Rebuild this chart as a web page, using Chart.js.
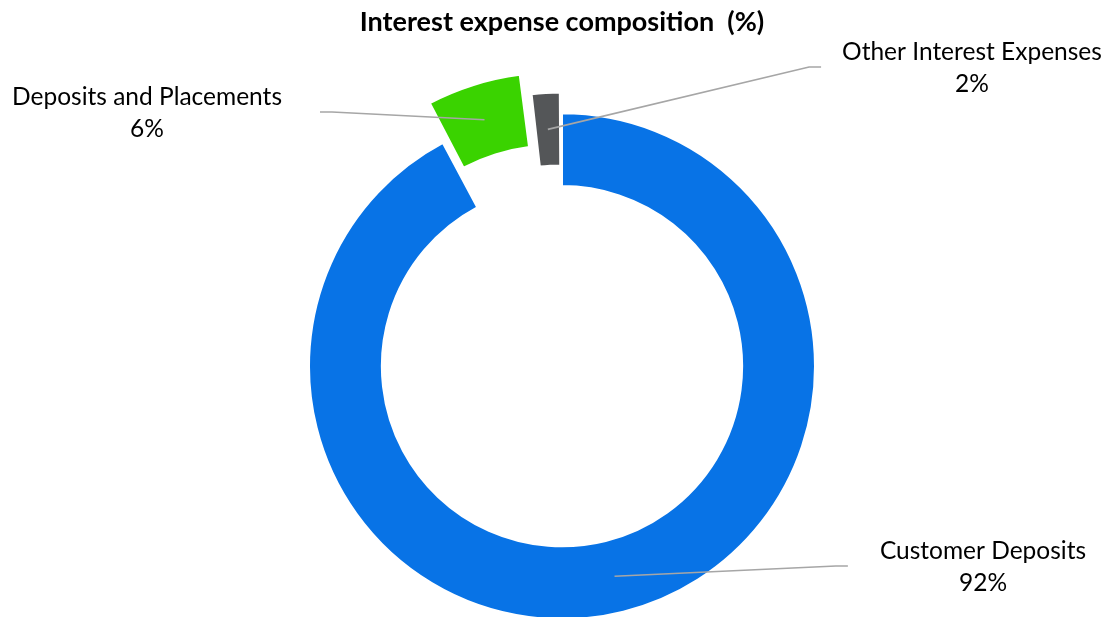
<!DOCTYPE html>
<html>
<head>
<meta charset="utf-8">
<script src="https://cdn.jsdelivr.net/npm/chart.js@4.4.1/dist/chart.umd.min.js"></script>
<style>
  html, body { margin: 0; padding: 0; background: #fff; }
  #wrap { width: 1109px; height: 617px; }
</style>
</head>
<body>
<div id="wrap"><canvas id="myChart"></canvas></div>
<script>
var categories = ['Customer Deposits', 'Deposits and Placements', 'Other Interest Expenses'];
var shares = [92.2, 5.9, 1.9];
var sliceColors = ['#0873e6', '#3ad300', '#545658'];
var sliceOffsets = [0, 102, 44];

// label block centre and how far the leader line stops short of the text
var labelPos = [
    { x: 983, y: 567, side: 'left', gap: 32 },
    { x: 147, y: 113, side: 'right', gap: 38 },
    { x: 972, y: 68, side: 'left', gap: 21 }
];

var labelFont = '24.5px Lato';

var leaderLabels = {
    id: 'leaderLabels',
    afterDatasetsDraw: function(chart) {
        var ctx = chart.ctx;
        var meta = chart.getDatasetMeta(0);
        ctx.save();
        ctx.font = labelFont;
        meta.data.forEach(function(arc, i) {
            var p = arc.getProps(['x', 'y', 'startAngle', 'endAngle', 'innerRadius', 'outerRadius'], true);
            var mid = (p.startAngle + p.endAngle) / 2;
            var circ = p.endAngle - p.startAngle;
            // same shift the arc gets when it is drawn exploded
            var off = (arc.options.offset || 0) / 4 * (2 - Math.sin(Math.min(Math.PI, circ)));
            var r = (p.innerRadius + p.outerRadius) / 2 + off;
            var sx = p.x + Math.cos(mid) * r;
            var sy = p.y + Math.sin(mid) * r;

            var lp = labelPos[i];
            var lines = [categories[i], Math.round(shares[i]) + '%'];
            var w = Math.max(ctx.measureText(lines[0]).width, ctx.measureText(lines[1]).width);
            var ex = lp.side === 'left' ? lp.x - w / 2 - lp.gap : lp.x + w / 2 + lp.gap;
            var kx = lp.side === 'left' ? ex - 12 : ex + 12;
            var ey = lp.y - 1;

            ctx.strokeStyle = '#a6a6a6';
            ctx.lineWidth = 1.6;
            ctx.beginPath();
            ctx.moveTo(sx, sy);
            ctx.lineTo(kx, ey);
            ctx.lineTo(ex, ey);
            ctx.stroke();

            ctx.fillStyle = '#000';
            ctx.textAlign = 'center';
            ctx.textBaseline = 'middle';
            ctx.fillText(lines[0], lp.x, lp.y - 16);
            ctx.fillText(lines[1], lp.x, lp.y + 16);
        });
        ctx.restore();
    }
};

var ctx = document.getElementById('myChart').getContext('2d');
var myChart = new Chart(ctx, {
    type: 'doughnut',
    data: {
        labels: categories,
        datasets: [{
            data: shares,
            backgroundColor: sliceColors,
            borderColor: '#ffffff',
            borderWidth: 2,
            offset: sliceOffsets
        }]
    },
    options: {
        responsive: true,
        maintainAspectRatio: false,
        animation: false,
        radius: 253,
        cutout: '71.2%',
        layout: {
            padding: { left: 15, right: 0, top: 0, bottom: 0 }
        },
        plugins: {
            legend: { display: false },
            tooltip: { enabled: false },
            title: {
                display: true,
                text: 'Interest expense composition  (%)',
                color: '#000',
                font: { family: 'Lato', size: 27, weight: 'bold' },
                padding: { top: 6, bottom: 77 }
            }
        }
    },
    plugins: [leaderLabels]
});
</script>
</body>
</html>
